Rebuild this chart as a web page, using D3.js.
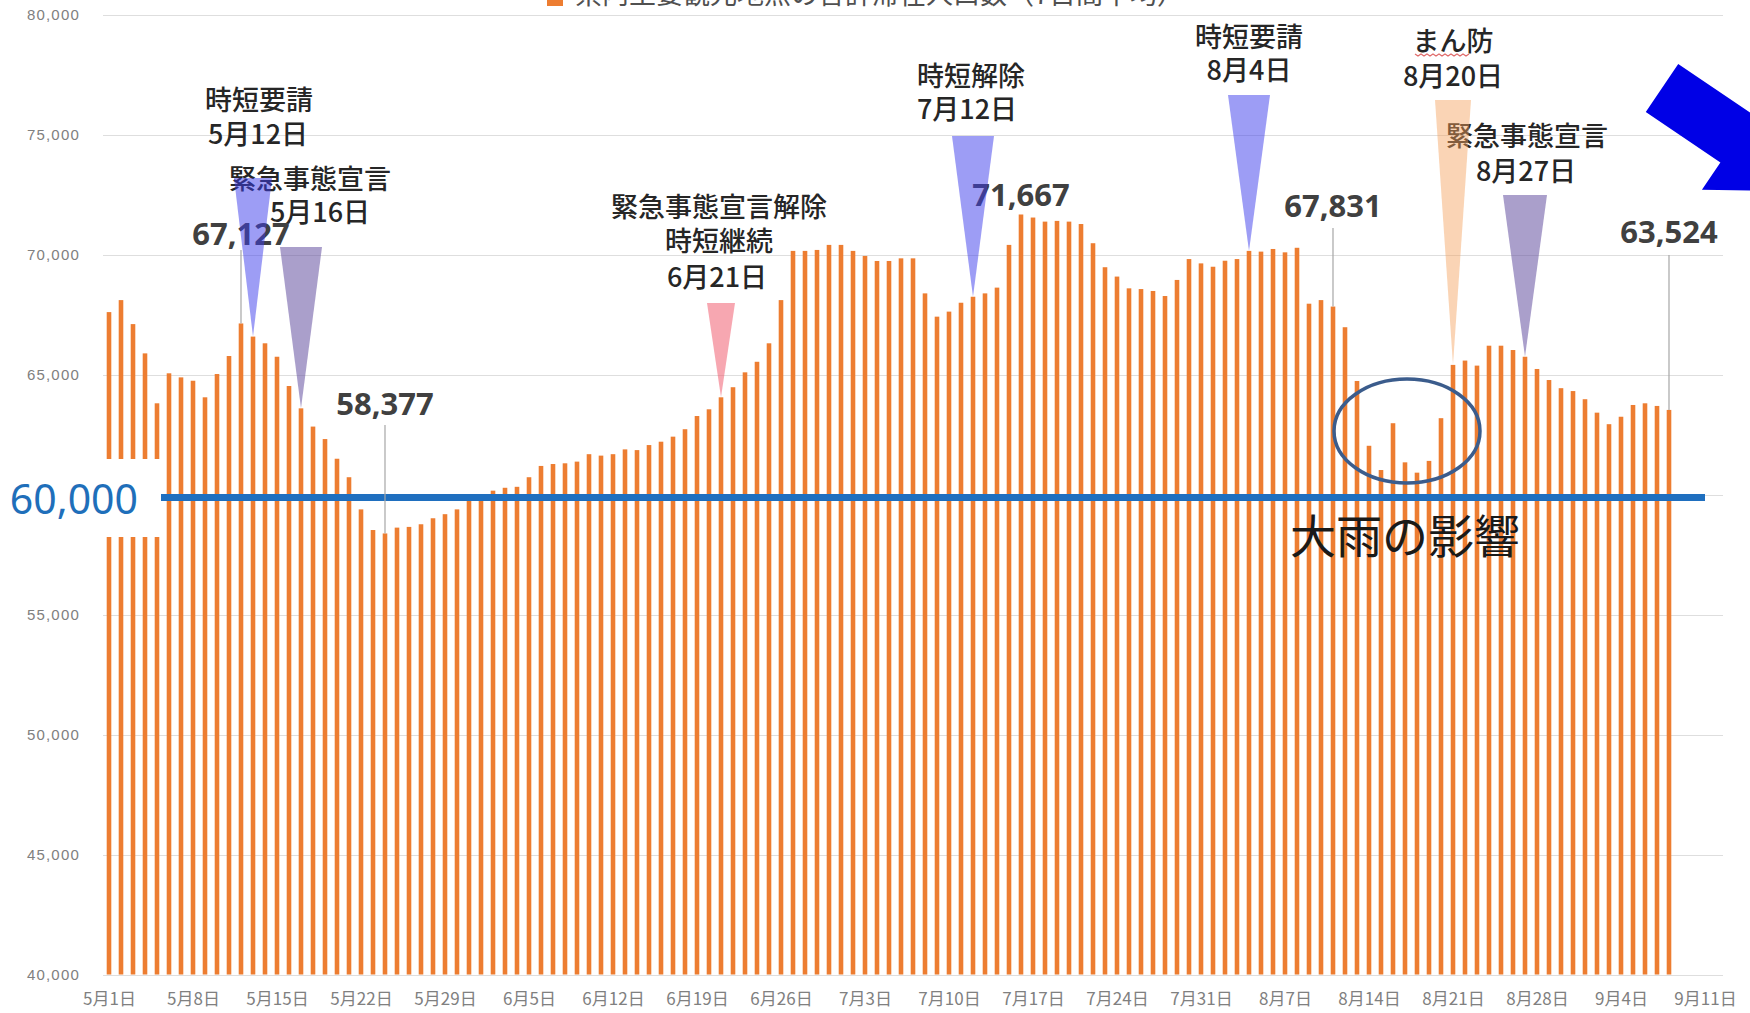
<!DOCTYPE html>
<html>
<head>
<meta charset="utf-8">
<script src="https://cdn.jsdelivr.net/npm/d3@7"></script>
<style>
html, body { margin: 0; padding: 0; background: #fff; overflow: hidden; }
svg { display: block; font-family: "Noto Sans CJK JP", "Noto Sans", sans-serif; }
</style>
</head>
<body>
<div id="chart-area"></div>
<script>
// daily values, 2021-05-01 .. 2021-09-08
var startDay = "2021-05-01";
var visitors = [
	67600, 68100, 67100, 65880, 63800, 65050, 64880, 64740, 64050, 65020,
	65770, 67127, 66580, 66300, 65740, 64520, 63590, 62830, 62310, 61490,
	60720, 59380, 58520, 58377, 58620, 58650, 58760, 59010, 59180, 59380,
	59770, 59840, 60160, 60280, 60320, 60720, 61190, 61270, 61300, 61370,
	61680, 61620, 61680, 61880, 61850, 62060, 62200, 62410, 62720, 63270,
	63550, 64050, 64470, 65090, 65530, 66300, 68100, 70150, 70150, 70190,
	70400, 70400, 70150, 69940, 69730, 69730, 69840, 69840, 68380, 67410,
	67620, 67990, 68240, 68380, 68620, 70400, 71667, 71540, 71370, 71400,
	71370, 71270, 70470, 69470, 69080, 68590, 68560, 68480, 68270, 68940,
	69810, 69630, 69490, 69740, 69810, 70150, 70120, 70230, 70090, 70280,
	67950, 68100, 67831, 66970, 64730, 62030, 61020, 62970, 61340, 60910,
	61400, 63180, 65400, 65580, 65370, 66200, 66200, 66020, 65740, 65230,
	64770, 64430, 64310, 63970, 63410, 62930, 63240, 63730, 63800, 63690,
	63524
];
var legendLabel = "県内主要観光地点の合計滞在人口数（7日間平均）";
var yTicks = [40000, 45000, 50000, 55000, 60000, 65000, 70000, 75000, 80000];
var tickDays = ["2021-05-01", "2021-05-08", "2021-05-15", "2021-05-22", "2021-05-29",
	"2021-06-05", "2021-06-12", "2021-06-19", "2021-06-26", "2021-07-03",
	"2021-07-10", "2021-07-17", "2021-07-24", "2021-07-31", "2021-08-07",
	"2021-08-14", "2021-08-21", "2021-08-28", "2021-09-04", "2021-09-11"];
var tickLabels = ["5月1日", "5月8日", "5月15日", "5月22日", "5月29日",
	"6月5日", "6月12日", "6月19日", "6月26日", "7月3日",
	"7月10日", "7月17日", "7月24日", "7月31日", "8月7日",
	"8月14日", "8月21日", "8月28日", "9月4日", "9月11日"];
var refValue = 60000;
var refLabel = "60,000";
var rainLabel = "大雨の影響";
var rainFrom = "2021-08-14", rainTo = "2021-08-20";

var events = [
	{ lines: ["時短要請", "5月12日"], tip: "2021-05-13", kind: "short" },
	{ lines: ["緊急事態宣言", "5月16日"], tip: "2021-05-17", kind: "emergency" },
	{ lines: ["緊急事態宣言解除", "時短継続", "6月21日"], tip: "2021-06-21", kind: "lift" },
	{ lines: ["時短解除", "7月12日"], tip: "2021-07-12", kind: "short" },
	{ lines: ["時短要請", "8月4日"], tip: "2021-08-04", kind: "short" },
	{ lines: ["まん防", "8月20日"], tip: "2021-08-21", kind: "manbo" },
	{ lines: ["緊急事態宣言", "8月27日"], tip: "2021-08-27", kind: "emergency" }
];
var calloutDays = ["2021-05-12", "2021-05-24", "2021-07-16", "2021-08-11", "2021-09-08"];

window.onload = () => {
	var W = 1750, H = 1013;
	var parse = d3.utcParse("%Y-%m-%d");
	var day0 = parse(startDay);
	var dates = visitors.map((v, i) => d3.utcDay.offset(day0, i));
	var data = visitors.map((v, i) => ({ date: dates[i], value: v }));
	var byDay = new Map(data.map(d => [+d.date, d.value]));

	var svg = d3.select("#chart-area").append("svg")
		.attr("width", W)
		.attr("height", H);
	svg.append("rect").attr("width", W).attr("height", H).attr("fill", "#fff");

	// SCALES
	var x = d3.scaleUtc()
		.domain([d3.utcHour.offset(parse("2021-04-30"), 12), d3.utcHour.offset(parse("2021-09-12"), 12)])
		.range([103, 1723]);
	var y = d3.scaleLinear()
		.domain([40000, 80000])
		.range([974.5, 14.5]);

	// grid
	svg.append("g").selectAll("line")
		.data(yTicks)
		.enter().append("line")
		.attr("x1", x.range()[0]).attr("x2", x.range()[1])
		.attr("y1", d => Math.round(y(d)) + 0.5).attr("y2", d => Math.round(y(d)) + 0.5)
		.attr("stroke", "#dedede").attr("stroke-width", 1.2);

	// Y Axis (the 60,000 tick sits under the big label, so it is left out)
	var yAxisCall = d3.axisLeft(y)
		.tickValues(yTicks.filter(t => t !== refValue))
		.tickSize(0)
		.tickPadding(0)
		.tickFormat(d3.format(","));
	var yAxis = svg.append("g")
		.attr("transform", "translate(80,0)")
		.call(yAxisCall);
	yAxis.select(".domain").remove();
	yAxis.selectAll("text")
		.attr("font-family", "'Liberation Sans', sans-serif")
		.attr("font-size", "15px")
		.attr("letter-spacing", "1.2px")
		.attr("fill", "#808080");

	// X Axis
	var xAxisCall = d3.axisBottom(x)
		.tickValues(tickDays.map(parse))
		.tickSize(0)
		.tickPadding(0)
		.tickFormat((d, i) => tickLabels[i]);
	var xAxis = svg.append("g")
		.attr("transform", "translate(0,993)")
		.call(xAxisCall);
	xAxis.select(".domain").remove();
	xAxis.selectAll("text")
		.attr("font-family", "'Noto Sans CJK JP', sans-serif")
		.attr("font-size", "17px")
		.attr("fill", "#808080");

	// bars
	var barW = 4.6;
	svg.append("g").selectAll("rect")
		.data(data)
		.enter().append("rect")
		.attr("x", d => x(d.date) - barW / 2)
		.attr("y", d => y(d.value))
		.attr("width", barW)
		.attr("height", d => y(40000) - y(d.value))
		.attr("fill", "#ed7d31");

	// legend (cut at the top edge)
	svg.append("rect")
		.attr("x", 547).attr("y", -10).attr("width", 16).attr("height", 16)
		.attr("fill", "#ed7d31");
	svg.append("text")
		.attr("x", 575).attr("y", 4)
		.attr("font-size", "27px")
		.attr("fill", "#505050")
		.text(legendLabel);

	// 60,000 line and its label box
	svg.append("rect")
		.attr("x", 0).attr("y", 459).attr("width", 163).attr("height", 78)
		.attr("fill", "#fff");
	svg.append("line")
		.attr("x1", 161).attr("x2", 1705)
		.attr("y1", y(refValue) + 3).attr("y2", y(refValue) + 3)
		.attr("stroke", "#1f6fbf").attr("stroke-width", 7);
	svg.append("text")
		.attr("x", 138).attr("y", 514)
		.attr("text-anchor", "end")
		.attr("font-family", "'Noto Sans', sans-serif")
		.attr("font-size", "41px")
		.attr("fill", "#1f6fba")
		.text(refLabel);

	// event labels
	var eventLayout = [
		{ top: 178, half: 19, dx: [6, 5], cy: [100, 134] },
		{ top: 247, half: 21, dx: [9, 19], cy: [179, 212] },
		{ top: 303, half: 14, dx: [-2, -2, -4], cy: [207, 241, 277] },
		{ top: 136, half: 21, dx: [-2, -6], cy: [76, 109] },
		{ top: 95, half: 21, dx: [0, 0], cy: [37, 70] },
		{ top: 100, half: 18, dx: [0, 0], cy: [41, 76] },
		{ top: 195, half: 22, dx: [2, 1], cy: [136, 171] }
	];
	var kindStyle = {
		short: { fill: "rgb(60,60,235)", op: 0.5 },
		emergency: { fill: "rgb(100,80,160)", op: 0.55 },
		lift: { fill: "rgb(240,80,100)", op: 0.5 },
		manbo: { fill: "rgb(245,160,90)", op: 0.45 }
	};

	events.forEach((ev, k) => {
		var lay = eventLayout[k];
		var tx = x(parse(ev.tip));
		var label = svg.append("text")
			.attr("text-anchor", "middle")
			.attr("font-size", "27px")
			.attr("font-weight", 500)
			.attr("fill", "#262626");
		ev.lines.forEach((line, j) => {
			label.append("tspan")
				.attr("x", tx + lay.dx[j])
				.attr("y", lay.cy[j] + 10)
				.text(line);
		});
	});

	// value callouts
	var calloutLayout = [
		{ cy: 234, lineTop: 250 },
		{ cy: 404, lineTop: 425 },
		{ cy: 195, lineTop: null },
		{ cy: 206, lineTop: 228 },
		{ cy: 232, lineTop: 255 }
	];
	calloutDays.forEach((dStr, k) => {
		var dt = parse(dStr);
		var v = byDay.get(+dt);
		var lay = calloutLayout[k];
		svg.append("text")
			.attr("x", x(dt))
			.attr("y", lay.cy + 11)
			.attr("text-anchor", "middle")
			.attr("font-family", "'Noto Sans', sans-serif")
			.attr("font-weight", "bold")
			.attr("font-size", "31px")
			.attr("fill", "#404040")
			.text(d3.format(",")(v));
		if (lay.lineTop !== null) {
			svg.append("line")
				.attr("x1", x(dt)).attr("x2", x(dt))
				.attr("y1", lay.lineTop).attr("y2", y(v))
				.attr("stroke", "#a6a6a6").attr("stroke-width", 1.2);
		}
	});

	// triangles on top, translucent
	events.forEach((ev, k) => {
		var lay = eventLayout[k];
		var dt = parse(ev.tip);
		var tx = x(dt), ty = y(byDay.get(+dt));
		var st = kindStyle[ev.kind];
		svg.append("path")
			.attr("d", `M${tx - lay.half},${lay.top} L${tx + lay.half},${lay.top} L${tx},${ty} Z`)
			.attr("fill", st.fill)
			.attr("fill-opacity", st.op);
	});

	// spell-check squiggle under まん
	var sq = [];
	for (var sx = 1415; sx <= 1469; sx += 3) {
		sq.push([sx, 55 + ((sx - 1415) / 3 % 2 === 0 ? -1 : 1)]);
	}
	svg.append("path")
		.attr("d", d3.line()(sq))
		.attr("fill", "none")
		.attr("stroke", "#e06a6a")
		.attr("stroke-width", 1.2);

	// heavy rain ellipse
	var ex0 = x(parse(rainFrom)), ex1 = x(parse(rainTo));
	svg.append("ellipse")
		.attr("cx", (ex0 + ex1) / 2 + 2)
		.attr("cy", 431)
		.attr("rx", 73).attr("ry", 52)
		.attr("fill", "none")
		.attr("stroke", "#3b5c8c")
		.attr("stroke-width", 3.5);
	svg.append("text")
		.attr("x", 1405).attr("y", 553)
		.attr("text-anchor", "middle")
		.attr("font-size", "46px")
		.attr("fill", "#1a1a1a")
		.text(rainLabel);

	// big blue arrow pointing down-right
	var ang = Math.atan2(0.56, 0.83);
	var d = [Math.cos(ang), Math.sin(ang)], n = [-Math.sin(ang), Math.cos(ang)];
	var S = [1662, 88], w = 29, L = 90, hw = 62, hl = 95;
	var Hc = [S[0] + L * d[0], S[1] + L * d[1]];
	var T = [Hc[0] + hl * d[0], Hc[1] + hl * d[1]];
	var P = (p, s) => [p[0] + s * n[0], p[1] + s * n[1]];
	svg.append("path")
		.attr("d", d3.line()([P(S, -w), P(Hc, -w), P(Hc, -hw), T, P(Hc, hw), P(Hc, w), P(S, w)]) + "Z")
		.attr("fill", "#0000e6");
};
</script>
</body>
</html>
